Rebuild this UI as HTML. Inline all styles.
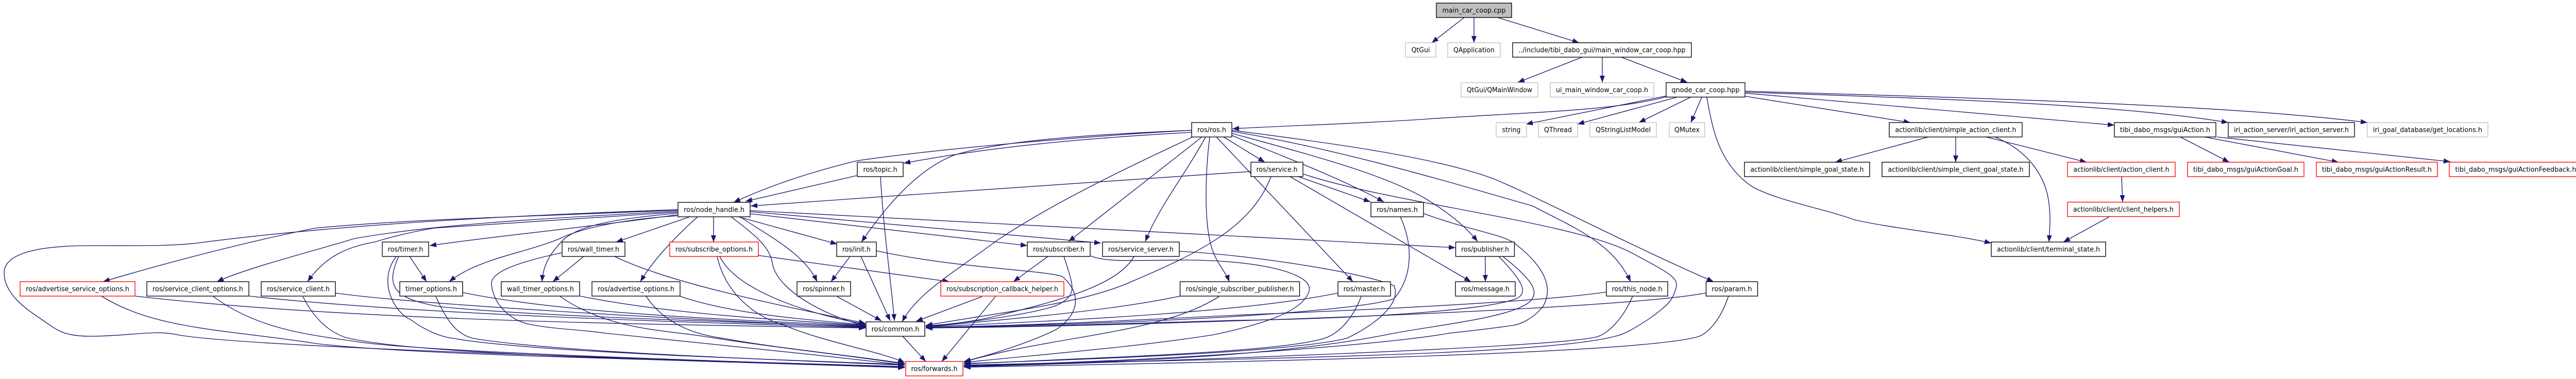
<!DOCTYPE html>
<html><head><meta charset="utf-8"><title>main_car_coop.cpp</title>
<style>
html,body{margin:0;padding:0;background:#fff}
svg{display:block}
path{fill:none;stroke:#191970;stroke-width:1.35;marker-end:url(#a)}
rect{fill:#fff;stroke:#000;stroke-width:1.35}
rect.g{stroke:#bfbfbf}
rect.r{stroke:#f00}
rect.m{fill:#bfbfbf}
text{font-family:"DejaVu Sans","Liberation Sans",sans-serif;font-size:13px;text-anchor:middle;fill:#000}
</style></head><body>
<svg width="5016" height="736" viewBox="0 0 5016 736" xmlns="http://www.w3.org/2000/svg">
<defs><marker id="a" markerUnits="userSpaceOnUse" markerWidth="14" markerHeight="10" refX="13" refY="5" orient="auto"><polygon points="0,0 13,5 0,10" fill="#191970"/></marker></defs>
<g>
<path d="M2842,34L2779,83"/><path d="M2861,34L2861,83"/><path d="M2907,34L3065,83"/>
<path d="M3071,111L2946,160"/><path d="M3110,111L3110,160"/><path d="M3147,111L3275,160"/>
<path d="M3234,188C3130,216 2960,218 2772,231C2640,240 2500,244 2392,250"/>
<path d="M3236,186L2962,241"/><path d="M3254,189L3062,241"/><path d="M3281,189L3181,238"/><path d="M3303,189L3282,238"/>
<path d="M3313,189C3325,260 3340,320 3400,362C3450,390 3540,405 3600,427C3680,445 3780,453 3865,472"/>
<path d="M3388,177C3700,187 4300,200 4595,238"/>
<path d="M3388,179C3700,190 4100,200 4325,238"/>
<path d="M3388,181L4104,243"/>
<path d="M3388,187L3708,238"/>
<path d="M3743,266L3562,315"/><path d="M3796,266L3796,315"/><path d="M3855,266L4050,315"/>
<path d="M3872,266C3930,290 3960,330 3972,370C3982,405 3979,440 3977,470"/>
<path d="M4232,266L4327,315"/><path d="M4279,266L4539,315"/><path d="M4303,266L4756,314"/>
<path d="M4118,343L4120,392"/><path d="M4094,421L4005,470"/>

<path d="M2313,253C2150,262 1850,285 1664,312C1570,335 1490,362 1424,393"/>
<path d="M2313,257C2150,266 1950,280 1754,317"/>
<path d="M2313,253C2150,260 1950,270 1850,302C1780,330 1720,400 1672,470"/>
<path d="M2315,266C2200,320 2050,390 1935,467C1850,530 1780,570 1751,625"/>
<path d="M2333,266L2074,469"/><path d="M2340,266C2300,340 2250,400 2223,469"/>
<path d="M2348,266C2340,330 2335,440 2355,490C2365,515 2380,530 2386,547"/>
<path d="M2361,266L2626,547"/>
<path d="M2375,266L2455,315"/>
<path d="M2391,263C2480,300 2590,340 2686,392"/>
<path d="M2391,259C2560,305 2690,340 2769,387C2810,412 2845,440 2868,469"/>
<path d="M2391,255C2600,290 2800,350 2975,400C3050,440 3130,470 3165,547"/>
<path d="M2391,253C2600,280 2780,305 2893,345C2960,370 3170,480 3326,547"/>

<path d="M2428,333C2200,350 1800,375 1457,400"/>
<path d="M2520,343L2660,392"/>
<path d="M2504,343L2855,547"/>
<path d="M2467,343C2430,440 2330,490 2196,547C2100,590 1950,605 1797,632"/>
<path d="M2530,338C2700,395 3050,430 3165,490C3240,530 3260,540 3253,560C3245,585 3240,590 3204,617C3170,640 3150,650 3135,653C3000,690 2400,697 1871,709"/>

<path d="M1663,341L1447,391"/>
<path d="M1709,343C1715,450 1730,550 1736,623"/>

<path d="M1315,408C1050,420 800,425 612,443C500,465 340,505 200,547"/>
<path d="M1315,410C1050,425 850,435 689,463C600,490 480,520 421,547"/>
<path d="M1315,412C1100,425 950,435 842,443C800,450 760,460 727,470C670,480 630,500 597,547"/>
<path d="M1315,417C1150,440 950,460 834,477"/>
<path d="M1315,419C1220,425 1140,440 1094,460C1030,490 930,500 872,547"/>
<path d="M1315,414C1200,425 1130,435 1094,465C1070,490 1055,510 1052,547"/>
<path d="M1339,421L1196,470"/>
<path d="M1354,421C1300,470 1265,510 1243,547"/>
<path d="M1385,421L1385,470"/>
<path d="M1433,421L1625,474"/>
<path d="M1437,421C1485,455 1560,490 1586,547"/>
<path d="M1456,415L1994,477"/>
<path d="M1456,411L2137,472"/>
<path d="M1456,409L2825,481"/>
<path d="M1419,421C1470,460 1495,480 1500,515C1510,560 1590,610 1680,633"/>
<path d="M1316,407C1100,415 700,430 383,472C330,478 280,477 176,477C80,477 8,490 8,530C8,570 50,600 76,617C110,640 120,653 176,653C250,653 300,640 344,650C450,670 1000,690 1756,712"/>

<path d="M1193,498C1300,550 1500,590 1680,628"/>
<path d="M1397,498C1430,565 1570,610 1680,630"/>
<path d="M1319,575C1420,610 1560,620 1680,631"/>
<path d="M1126,575C1300,610 1500,620 1680,632"/>
<path d="M898,568C1100,610 1450,622 1680,633"/>
<path d="M774,498C745,560 770,580 850,595C1000,612 1400,625 1680,634"/>
<path d="M650,569C800,590 1300,620 1680,635"/>
<path d="M484,575C800,610 1300,625 1680,636"/>
<path d="M262,575C700,625 1300,630 1680,637"/>

<path d="M197,575C300,640 440,640 612,667C800,690 1350,700 1756,712"/>
<path d="M413,575C500,640 600,650 689,663C800,682 1350,700 1756,713"/>
<path d="M588,576C610,620 640,645 670,655C800,690 1350,700 1756,714"/>
<path d="M846,576C870,630 890,650 918,657C1050,680 1400,695 1756,709"/>
<path d="M769,498C730,550 770,610 796,620C830,645 860,655 880,657C1000,680 1400,695 1756,708"/>
<path d="M1086,575C1180,640 1280,640 1365,653C1500,675 1650,690 1756,707"/>
<path d="M1090,491C1000,510 950,530 954,553C960,600 1000,625 1029,630C1080,640 1130,640 1174,647C1300,660 1600,690 1756,709"/>
<path d="M1254,575C1290,630 1350,650 1404,657C1500,675 1650,690 1756,706"/>
<path d="M1392,498C1410,580 1480,620 1518,630C1600,665 1700,680 1756,704"/>

<path d="M774,498L828,547" style="display:none"/>
<path d="M795,498L828,547"/>
<path d="M1133,498L1068,547" style="display:none"/>
<path d="M1132,498L1071,547" style="display:none"/>
<path d="M1132,498L1068,547" style="display:none"/>
<path d="M1133,498L1073,547"/>
<path d="M1650,498L1613,547"/>
<path d="M1671,498L1728,623"/>
<path d="M1625,576L1711,623"/>
<path d="M1906,576L1778,624"/>
<path d="M1932,576L1828,702"/>
<path d="M2034,498L1967,547"/>
<path d="M1472,496L1843,547"/>
<path d="M1752,653L1797,702"/>
<path d="M2883,498L2883,547"/>

<path d="M2366,576C2250,650 2050,650 1871,703"/>
<path d="M1701,487C1850,520 2030,525 2062,537C2100,570 2095,610 2050,640C2000,665 1920,690 1871,702"/>
<path d="M2642,576C2625,620 2600,645 2576,655C2500,685 2100,695 1871,707"/>
<path d="M2289,488C2430,495 2650,530 2706,555C2720,590 2670,630 2614,657C2500,685 2100,698 1871,706"/>
<path d="M2117,497C2150,510 2200,505 2300,505C2440,505 2550,530 2541,565C2530,605 2450,630 2356,650C2200,675 2000,690 1871,704"/>
<path d="M2764,415C2860,450 2920,455 2943,475C3000,520 3015,560 2995,595C2975,620 2950,630 2936,632C2880,640 2830,645 2813,647C2700,668 2300,700 1871,710"/>
<path d="M2917,498C2970,540 2990,565 2970,585C2940,615 2800,630 2706,647C2500,690 2200,703 1871,711"/>
<path d="M3169,575C3150,620 3120,650 3096,655C3000,675 2300,700 1871,712"/>
<path d="M3355,575C3340,620 3315,650 3292,655C3150,690 2300,705 1871,713"/>

<path d="M2201,498C2170,555 2050,585 1941,612C1890,625 1840,630 1797,633"/>
<path d="M2065,498C2085,560 2090,570 2057,590C2030,605 1900,625 1797,634"/>
<path d="M2291,575C2150,605 1950,620 1797,635"/>
<path d="M2597,569C2400,610 2000,625 1797,635"/>
<path d="M2718,421C2745,480 2740,540 2706,580C2650,600 2400,615 2300,620C2100,630 1950,632 1797,636"/>
<path d="M2909,498C2960,550 2965,570 2943,580C2880,605 2600,620 2400,622C2200,628 2000,634 1797,636"/>
<path d="M3118,567C3000,585 2700,600 2400,612C2200,622 2000,632 1797,636"/>
<path d="M3311,569C3200,590 2800,610 2400,623C2200,630 2000,635 1797,637"/>
</g>
<g>
<rect class="m" x="2788" y="6" width="146" height="28"/><text x="2861" y="24.5" textLength="123" lengthAdjust="spacingAndGlyphs">main_car_coop.cpp</text>
<rect class="g" x="2728" y="83" width="59" height="28"/><text x="2757.5" y="101.5" textLength="36" lengthAdjust="spacingAndGlyphs">QtGui</text>
<rect class="g" x="2810" y="83" width="102" height="28"/><text x="2861" y="101.5" textLength="80" lengthAdjust="spacingAndGlyphs">QApplication</text>
<rect x="2936" y="83" width="347" height="28"/><text x="3109.5" y="101.5" textLength="324" lengthAdjust="spacingAndGlyphs">../include/tibi_dabo_gui/main_window_car_coop.hpp</text>
<rect class="g" x="2836" y="160.5" width="149" height="28"/><text x="2910.5" y="179" textLength="127" lengthAdjust="spacingAndGlyphs">QtGui/QMainWindow</text>
<rect class="g" x="3009" y="160.5" width="201" height="28"/><text x="3109.5" y="179" textLength="179" lengthAdjust="spacingAndGlyphs">ui_main_window_car_coop.h</text>
<rect x="3234" y="160.5" width="153" height="28"/><text x="3310.5" y="179" textLength="132" lengthAdjust="spacingAndGlyphs">qnode_car_coop.hpp</text>
<rect class="g" x="2904" y="238" width="59" height="28"/><text x="2933.5" y="256.5" textLength="36" lengthAdjust="spacingAndGlyphs">string</text>
<rect class="g" x="2986" y="238" width="76" height="28"/><text x="3024" y="256.5" textLength="54" lengthAdjust="spacingAndGlyphs">QThread</text>
<rect class="g" x="3086" y="238" width="129" height="28"/><text x="3150.5" y="256.5" textLength="107" lengthAdjust="spacingAndGlyphs">QStringListModel</text>
<rect class="g" x="3240" y="238" width="69" height="28"/><text x="3274.5" y="256.5" textLength="49" lengthAdjust="spacingAndGlyphs">QMutex</text>
<rect x="3667" y="238" width="258" height="28"/><text x="3796" y="256.5" textLength="235" lengthAdjust="spacingAndGlyphs">actionlib/client/simple_action_client.h</text>
<rect x="4104" y="238" width="197" height="28"/><text x="4202.5" y="256.5" textLength="175" lengthAdjust="spacingAndGlyphs">tibi_dabo_msgs/guiAction.h</text>
<rect x="4325" y="238" width="245" height="28"/><text x="4447.5" y="256.5" textLength="223" lengthAdjust="spacingAndGlyphs">iri_action_server/iri_action_server.h</text>
<rect class="g" x="4595" y="238" width="234" height="28"/><text x="4712" y="256.5" textLength="212" lengthAdjust="spacingAndGlyphs">iri_goal_database/get_locations.h</text>
<rect x="2313" y="238" width="78" height="28"/><text x="2352" y="256.5" textLength="56" lengthAdjust="spacingAndGlyphs">ros/ros.h</text>
<rect x="1664" y="315" width="89" height="28"/><text x="1708.5" y="333.5" textLength="66" lengthAdjust="spacingAndGlyphs">ros/topic.h</text>
<rect x="2428" y="315" width="101" height="28"/><text x="2478.5" y="333.5" textLength="80" lengthAdjust="spacingAndGlyphs">ros/service.h</text>
<rect x="3386" y="315" width="243" height="28"/><text x="3507.5" y="333.5" textLength="220" lengthAdjust="spacingAndGlyphs">actionlib/client/simple_goal_state.h</text>
<rect x="3653" y="315" width="286" height="28"/><text x="3796" y="333.5" textLength="263" lengthAdjust="spacingAndGlyphs">actionlib/client/simple_client_goal_state.h</text>
<rect class="r" x="4013" y="315" width="209" height="28"/><text x="4117.5" y="333.5" textLength="186" lengthAdjust="spacingAndGlyphs">actionlib/client/action_client.h</text>
<rect class="r" x="4246" y="315" width="226" height="28"/><text x="4359" y="333.5" textLength="204" lengthAdjust="spacingAndGlyphs">tibi_dabo_msgs/guiActionGoal.h</text>
<rect class="r" x="4496" y="315" width="235" height="28"/><text x="4613.5" y="333.5" textLength="213" lengthAdjust="spacingAndGlyphs">tibi_dabo_msgs/guiActionResult.h</text>
<rect class="r" x="4754" y="315" width="258" height="28"/><text x="4883" y="333.5" textLength="235" lengthAdjust="spacingAndGlyphs">tibi_dabo_msgs/guiActionFeedback.h</text>
<rect x="1316" y="393" width="140" height="28"/><text x="1386" y="411.5" textLength="118" lengthAdjust="spacingAndGlyphs">ros/node_handle.h</text>
<rect x="2661" y="393" width="102" height="28"/><text x="2712" y="411.5" textLength="80" lengthAdjust="spacingAndGlyphs">ros/names.h</text>
<rect class="r" x="4013" y="392.5" width="217" height="28"/><text x="4121.5" y="411" textLength="195" lengthAdjust="spacingAndGlyphs">actionlib/client/client_helpers.h</text>
<rect x="742" y="470" width="90" height="28"/><text x="787" y="488.5" textLength="69" lengthAdjust="spacingAndGlyphs">ros/timer.h</text>
<rect x="1091" y="470" width="122" height="28"/><text x="1152" y="488.5" textLength="100" lengthAdjust="spacingAndGlyphs">ros/wall_timer.h</text>
<rect class="r" x="1300" y="470" width="172" height="28"/><text x="1386" y="488.5" textLength="150" lengthAdjust="spacingAndGlyphs">ros/subscribe_options.h</text>
<rect x="1624" y="470" width="77" height="28"/><text x="1662.5" y="488.5" textLength="55" lengthAdjust="spacingAndGlyphs">ros/init.h</text>
<rect x="1994" y="470" width="122" height="28"/><text x="2055" y="488.5" textLength="100" lengthAdjust="spacingAndGlyphs">ros/subscriber.h</text>
<rect x="2140" y="470" width="149" height="28"/><text x="2214.5" y="488.5" textLength="127" lengthAdjust="spacingAndGlyphs">ros/service_server.h</text>
<rect x="2825.5" y="470" width="114" height="28"/><text x="2882.5" y="488.5" textLength="93" lengthAdjust="spacingAndGlyphs">ros/publisher.h</text>
<rect x="3865" y="470" width="222" height="28"/><text x="3976" y="488.5" textLength="200" lengthAdjust="spacingAndGlyphs">actionlib/client/terminal_state.h</text>
<rect class="r" x="39" y="547" width="223" height="28"/><text x="150.5" y="565.5" textLength="201" lengthAdjust="spacingAndGlyphs">ros/advertise_service_options.h</text>
<rect x="285" y="547" width="198" height="28"/><text x="384" y="565.5" textLength="176" lengthAdjust="spacingAndGlyphs">ros/service_client_options.h</text>
<rect x="507" y="547" width="144" height="28"/><text x="579" y="565.5" textLength="122" lengthAdjust="spacingAndGlyphs">ros/service_client.h</text>
<rect x="776" y="547" width="122" height="28"/><text x="837" y="565.5" textLength="100" lengthAdjust="spacingAndGlyphs">timer_options.h</text>
<rect x="973" y="547" width="152" height="28"/><text x="1049" y="565.5" textLength="130" lengthAdjust="spacingAndGlyphs">wall_timer_options.h</text>
<rect x="1149" y="547" width="171" height="28"/><text x="1234.5" y="565.5" textLength="149" lengthAdjust="spacingAndGlyphs">ros/advertise_options.h</text>
<rect x="1547" y="547" width="104" height="28"/><text x="1599" y="565.5" textLength="82" lengthAdjust="spacingAndGlyphs">ros/spinner.h</text>
<rect class="r" x="1826" y="547" width="239" height="28"/><text x="1945.5" y="565.5" textLength="217" lengthAdjust="spacingAndGlyphs">ros/subscription_callback_helper.h</text>
<rect x="2290.5" y="547" width="232" height="28"/><text x="2406.5" y="565.5" textLength="210" lengthAdjust="spacingAndGlyphs">ros/single_subscriber_publisher.h</text>
<rect x="2597" y="547" width="102" height="28"/><text x="2648" y="565.5" textLength="81" lengthAdjust="spacingAndGlyphs">ros/master.h</text>
<rect x="2825" y="547" width="116" height="28"/><text x="2883" y="565.5" textLength="94" lengthAdjust="spacingAndGlyphs">ros/message.h</text>
<rect x="3118" y="547" width="119" height="28"/><text x="3177.5" y="565.5" textLength="98" lengthAdjust="spacingAndGlyphs">ros/this_node.h</text>
<rect x="3311.5" y="547" width="100" height="28"/><text x="3361.5" y="565.5" textLength="78" lengthAdjust="spacingAndGlyphs">ros/param.h</text>
<rect x="1681" y="625" width="114" height="28"/><text x="1738" y="643.5" textLength="93" lengthAdjust="spacingAndGlyphs">ros/common.h</text>
<rect class="r" x="1758" y="702" width="111" height="28"/><text x="1813.5" y="720.5" textLength="90" lengthAdjust="spacingAndGlyphs">ros/forwards.h</text>
</g>
</svg>
</body></html>
